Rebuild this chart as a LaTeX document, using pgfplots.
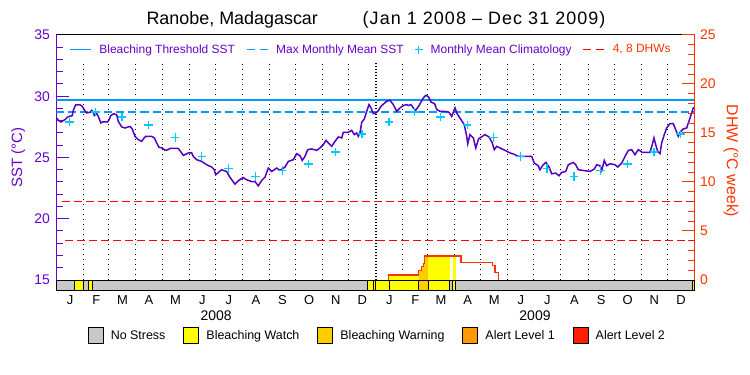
\documentclass[border=0pt]{standalone}
\usepackage{fontspec}
\setmainfont{Liberation Sans}
\usepackage{pgfplots}
\pgfplotsset{compat=1.18}
\definecolor{mypurple}{RGB}{102,0,204}
\definecolor{sstline}{RGB}{85,0,190}
\definecolor{thrblue}{RGB}{0,153,255}
\definecolor{climblue}{RGB}{0,200,255}
\definecolor{dhwred}{RGB}{255,51,0}
\definecolor{dhweight}{RGB}{255,0,0}
\definecolor{nsgrey}{RGB}{200,200,200}
\definecolor{watch}{RGB}{255,255,0}
\definecolor{warning}{RGB}{255,204,0}
\definecolor{alertone}{RGB}{255,153,0}
\definecolor{alerttwo}{RGB}{255,30,0}
\pgfplotsset{
  crosslegend/.style={legend image code/.code={\draw[##1] plot coordinates {(4bp,0bp)};}},
  linelegend/.style={legend image code/.code={\draw[##1] (0bp,0bp) -- (21bp,0bp);}},
  boxlegend/.style={legend image code/.code={\draw[##1] (0bp,-8bp) rectangle (15bp,8bp);}},
}
\begin{document}
\begin{tikzpicture}
\useasboundingbox (-56.5bp,-95bp) rectangle (693.5bp,280bp);
% ---------------- SST axis (left) ----------------
\begin{axis}[
  at={(0bp,0bp)}, anchor=south west,
  scale only axis, width=638bp, height=245bp,
  xmin=0, xmax=731, ymin=15, ymax=35,
  axis x line*=top, axis y line*=left,
  x axis line style={black, line width=1bp, -},
  y axis line style={mypurple, line width=1bp, -},
  xtick=\empty,
  ytick={15,20,25,30,35}, minor y tick num=4,
  tick align=inside,
  major tick length=13bp, minor tick length=6.5bp,
  tick style={mypurple, line width=1bp},
  yticklabel style={text=mypurple, font=\fontsize{14}{14}\selectfont, inner sep=0pt, xshift=-6.5bp},
  /pgf/number format/assume math mode=true,
  ylabel={SST (°C)},
  every axis y label/.style={at={(axis description cs:-0.060,0.5)}, rotate=90, anchor=center, font=\fontsize{15}{15}\selectfont, text=mypurple},
]
% month boundary dotted lines
\addplot[forget plot, ycomb, black, line width=1bp, dash pattern=on 1bp off 4bp] coordinates {
(31,32.84) (60,32.84) (91,32.84) (121,32.84) (152,32.84) (182,32.84) (213,32.84) (244,32.84) (274,32.84) (305,32.84) (335,32.84)
(397,32.84) (425,32.84) (456,32.84) (486,32.84) (517,32.84) (547,32.84) (578,32.84) (609,32.84) (639,32.84) (670,32.84) (700,32.84)};
\addplot[forget plot, ycomb, black, line width=1.2bp, dash pattern=on 1.5bp off 1.5bp] coordinates {(366,32.84)};
% bleaching threshold and MMM
\addplot[forget plot, thrblue, line width=1.2bp] coordinates {(0,29.7) (731,29.7)};
\addplot[forget plot, thrblue, line width=1.2bp, dash pattern=on 8bp off 4bp] coordinates {(0,28.72) (731,28.72)};
% SST
\addplot[forget plot, sstline, line width=1.5bp] table[row sep=\\] {
x y\\
0.2 28.23\\ 2.1 28.04\\ 5.2 27.90\\ 9.7 28.09\\ 12.8 28.31\\ 18.1 28.42\\ 19.2 28.85\\ 22.0 29.30\\ 26.9 29.30\\ 29.6 29.18\\
32.7 28.77\\ 34.6 28.64\\ 38.4 28.69\\ 40.3 28.85\\ 42.2 28.69\\ 43.3 28.42\\ 46.1 28.58\\ 47.9 28.36\\ 50.8 27.82\\ 52.7 27.90\\
58.5 27.90\\ 60.3 28.09\\ 62.2 28.42\\ 65.8 28.58\\ 69.0 28.48\\ 70.8 27.95\\ 74.7 27.50\\ 78.5 27.41\\ 84.2 27.54\\ 86.8 27.33\\
89.9 26.73\\ 93.7 26.46\\ 97.6 26.32\\ 99.4 26.51\\ 102.2 26.73\\ 109.1 26.73\\ 112.1 26.60\\ 114.8 26.19\\ 117.4 25.83\\ 121.2 25.78\\
124.3 25.58\\ 128.1 25.64\\ 130.0 25.74\\ 139.5 25.74\\ 143.4 25.37\\ 145.3 25.17\\ 149.2 25.31\\ 151.0 25.37\\ 154.9 25.37\\ 156.7 25.09\\
160.6 24.82\\ 166.4 24.68\\ 172.1 24.41\\ 177.8 24.22\\ 180.8 24.00\\ 182.4 23.59\\ 185.4 23.78\\ 189.2 24.00\\ 194.9 23.86\\ 198.6 23.40\\
204.4 22.83\\ 208.9 23.13\\ 213.9 23.37\\ 217.8 23.18\\ 223.5 23.04\\ 227.4 23.04\\ 231.2 22.69\\ 235.1 23.13\\ 238.9 23.40\\ 242.7 24.14\\
246.6 23.86\\ 252.3 24.14\\ 256.1 23.94\\ 261.8 24.22\\ 265.6 24.68\\ 271.3 24.82\\ 275.2 25.31\\ 279.0 25.15\\ 281.6 24.76\\ 284.7 25.09\\
287.8 25.64\\ 292.4 25.70\\ 298.1 25.58\\ 301.9 25.78\\ 305.7 26.05\\ 308.8 26.40\\ 311.4 26.19\\ 315.3 25.91\\ 319.1 26.32\\ 322.9 26.68\\
326.8 26.60\\ 328.6 27.05\\ 334.3 27.05\\ 338.2 27.22\\ 341.2 26.87\\ 343.9 27.00\\ 345.8 26.73\\ 347.7 27.00\\ 349.7 27.87\\ 352.7 28.15\\
355.4 28.77\\ 358.0 29.32\\ 360.3 29.05\\ 363.0 28.58\\ 365.5 28.62\\ 368.2 28.77\\ 371.8 29.18\\ 378.2 29.59\\ 382.1 29.67\\ 385.9 29.32\\
389.8 28.77\\ 393.6 29.05\\ 397.4 29.24\\ 401.2 29.32\\ 403.1 29.24\\ 406.2 29.32\\ 408.8 29.05\\ 411.5 28.85\\ 415.4 29.24\\ 420.3 29.87\\
423.4 30.08\\ 426.2 29.95\\ 429.3 29.51\\ 433.1 29.40\\ 435.8 28.91\\ 439.4 28.77\\ 447.1 28.75\\ 449.7 28.69\\ 452.8 28.36\\ 454.6 28.69\\
456.6 29.05\\ 458.5 28.64\\ 463.4 28.09\\ 467.2 27.68\\ 470.0 26.73\\ 471.2 26.13\\ 473.7 26.87\\ 477.6 26.60\\ 480.4 25.78\\ 483.5 26.51\\
487.0 26.68\\ 490.9 26.87\\ 495.5 26.68\\ 499.3 26.19\\ 501.6 25.64\\ 504.4 25.91\\ 508.1 25.78\\ 513.9 25.58\\ 519.6 25.37\\ 523.4 25.29\\
529.1 25.09\\ 544.5 25.09\\ 547.4 24.55\\ 552.0 24.33\\ 553.9 24.00\\ 557.7 24.41\\ 560.8 24.60\\ 564.3 24.22\\ 567.4 23.67\\ 571.9 23.73\\
575.7 23.51\\ 578.8 23.78\\ 583.4 23.86\\ 586.4 24.41\\ 592.1 24.60\\ 594.9 24.41\\ 597.9 24.00\\ 603.6 23.94\\ 611.3 23.86\\ 616.2 24.06\\
618.9 24.41\\ 622.7 24.33\\ 624.7 23.94\\ 627.6 24.76\\ 630.4 24.33\\ 634.2 24.49\\ 639.9 24.41\\ 643.0 24.22\\ 647.6 24.55\\ 651.4 25.09\\
655.2 25.58\\ 659.0 25.64\\ 662.8 25.23\\ 666.6 25.64\\ 671.2 25.42\\ 680.0 25.42\\ 682.6 26.05\\ 684.6 26.60\\ 686.5 26.05\\ 688.8 25.50\\
691.5 25.31\\ 693.4 26.19\\ 696.4 26.87\\ 699.1 27.41\\ 702.9 27.77\\ 706.7 27.77\\ 709.4 27.27\\ 712.4 26.73\\ 714.4 27.05\\ 718.1 27.33\\
722.0 27.41\\ 724.6 27.95\\ 727.8 28.64\\ 729.6 29.05\\ 731.0 29.05\\
};
% monthly mean climatology
\addplot[forget plot, only marks, mark=+, mark size=4.3bp, climblue, line width=1.2bp] coordinates {
(15,27.90) (45,28.72) (75,28.30) (105.5,27.66) (136,26.64) (166.5,25.09) (197,24.08) (228,23.45) (258.5,23.92) (289,24.47) (319.5,25.45) (350,26.92)
(381,27.90) (410.5,28.72) (440,28.30) (470.5,27.66) (501,26.64) (531.5,25.09) (562,24.08) (593,23.45) (623.5,23.92) (654,24.47) (684.5,25.45) (715,26.92)};
\end{axis}
% ---------------- DHW axis (right) ----------------
\begin{axis}[
  at={(0bp,0bp)}, anchor=south west,
  scale only axis, width=638bp, height=245bp,
  xmin=0, xmax=731, ymin=0, ymax=25,
  axis x line=none, axis y line*=right,
  y axis line style={dhwred, line width=1bp, -},
  ytick={0,5,10,15,20,25}, minor y tick num=4,
  tick align=inside,
  major tick length=13bp, minor tick length=6.5bp,
  tick style={dhwred, line width=1bp},
  yticklabel style={text=dhwred, font=\fontsize{14}{14}\selectfont, inner sep=0pt, xshift=5.5bp},
  /pgf/number format/assume math mode=true,
  ylabel={DHW (°C week)},
  every axis y label/.style={at={(axis description cs:1.0572,0.4857)}, rotate=-90, anchor=center, font=\fontsize{16}{16}\selectfont, text=dhwred},
  legend columns=4,
  legend cell align=left,
  linelegend,
  legend style={at={(0.0196,0.9408)}, anchor=west, draw=none, fill=none, inner sep=0pt, text=mypurple,
    font=\fontsize{12}{14}\selectfont, nodes={inner sep=0pt},
    /tikz/every odd column/.append style={column sep=8bp},
    /tikz/every even column/.append style={column sep=11bp}},
]
% alert-coloured area under the DHW curve
\addplot[forget plot, fill=watch, draw=none] coordinates {(380.5,0) (380.5,0.5) (414.5,0.5) (414.5,0)} --cycle;
\addplot[forget plot, fill=warning, draw=none] coordinates {(414.5,0) (414.5,0.95) (418.4,0.95) (418.4,1.36) (420.3,1.36) (420.3,1.7) (421.4,1.7) (421.4,2.45) (426.2,2.45) (426.2,0)} --cycle;
\addplot[forget plot, fill=watch, draw=none] coordinates {(426.2,0) (426.2,2.45) (450.3,2.45) (450.3,0)} --cycle;
\addplot[forget plot, fill=watch, draw=none] coordinates {(453.9,0) (453.9,2.45) (457.4,2.45) (457.4,0)} --cycle;
% DHW
\addplot[forget plot, const plot, dhwred, line width=1.2bp] coordinates {(380.5,0) (380.5,0.5) (414.5,0.95) (418.4,1.36) (420.3,1.7) (421.4,2.45) (463.5,1.8) (499.3,1.46) (502.4,0.75) (506.2,0)};
% 4 and 8 DHW lines
\addplot[forget plot, dhweight, line width=1bp, dash pattern=on 8bp off 4bp] coordinates {(10,4) (731,4)};
\addplot[forget plot, dhweight, line width=1bp, dash pattern=on 8bp off 4bp] coordinates {(6,8) (731,8)};
% legend
\addlegendimage{thrblue, line width=1.2bp}
\addlegendentry{Bleaching Threshold SST}
\addlegendimage{thrblue, line width=1.2bp, dash pattern=on 8bp off 5bp}
\addlegendentry{Max Monthly Mean SST}
\addlegendimage{only marks, mark=+, mark size=4bp, climblue, line width=1.2bp, crosslegend}
\addlegendentry{Monthly Mean Climatology}
\addlegendimage{dhweight, line width=1.2bp, dash pattern=on 8bp off 5bp}
\addlegendentry{\textcolor{dhwred}{4, 8 DHWs}}
\end{axis}
% ---------------- stress bar ----------------
\begin{axis}[
  at={(0bp,0bp)}, anchor=north west,
  scale only axis, width=638bp, height=10bp,
  xmin=0, xmax=731, ymin=0, ymax=1,
  axis line style={black, line width=1bp},
  ytick=\empty,
  xtick={15.5,45.5,75.5,106,136.5,167,197.5,228.5,259,289.5,320,350.5,381.5,411,440.5,471,501.5,532,562.5,593.5,624,654.5,685,715.5},
  xticklabels={J,F,M,A,M,J,J,A,S,O,N,D,J,F,M,A,M,J,J,A,S,O,N,D},
  major tick length=0pt,
  xticklabel style={font=\fontsize{13}{13}\selectfont, anchor=base, yshift=-14bp, inner sep=0pt},
  clip=false,
  legend columns=5,
  legend cell align=left,
  boxlegend,
  legend style={at={(0.0487,-4.6)}, anchor=west, draw=none, fill=none, inner sep=0pt,
    font=\fontsize{12.5}{14}\selectfont, nodes={inner sep=0pt},
    /tikz/every odd column/.append style={column sep=7bp},
    /tikz/every even column/.append style={column sep=18bp}},
]
\addplot[forget plot, fill=nsgrey, draw=black, line width=1bp] coordinates {(0,0) (20.3,0) (20.3,1) (0,1)} --cycle;
\addplot[forget plot, fill=watch, draw=black, line width=1bp] coordinates {(20.3,0) (31.2,0) (31.2,1) (20.3,1)} --cycle;
\addplot[forget plot, fill=nsgrey, draw=black, line width=1bp] coordinates {(31.2,0) (37.0,0) (37.0,1) (31.2,1)} --cycle;
\addplot[forget plot, fill=watch, draw=black, line width=1bp] coordinates {(37.0,0) (41.0,0) (41.0,1) (37.0,1)} --cycle;
\addplot[forget plot, fill=nsgrey, draw=black, line width=1bp] coordinates {(41.0,0) (356.2,0) (356.2,1) (41.0,1)} --cycle;
\addplot[forget plot, fill=watch, draw=black, line width=1bp] coordinates {(356.2,0) (363.1,0) (363.1,1) (356.2,1)} --cycle;
\addplot[forget plot, fill=watch, draw=black, line width=1bp] coordinates {(363.1,0) (365.7,0) (365.7,1) (363.1,1)} --cycle;
\addplot[forget plot, fill=watch, draw=black, line width=1bp] coordinates {(365.7,0) (381.0,0) (381.0,1) (365.7,1)} --cycle;
\addplot[forget plot, fill=watch, draw=black, line width=1bp] coordinates {(381.0,0) (414.5,0) (414.5,1) (381.0,1)} --cycle;
\addplot[forget plot, fill=warning, draw=black, line width=1bp] coordinates {(414.5,0) (426.2,0) (426.2,1) (414.5,1)} --cycle;
\addplot[forget plot, fill=watch, draw=black, line width=1bp] coordinates {(426.2,0) (450.3,0) (450.3,1) (426.2,1)} --cycle;
\addplot[forget plot, fill=nsgrey, draw=black, line width=1bp] coordinates {(450.3,0) (453.9,0) (453.9,1) (450.3,1)} --cycle;
\addplot[forget plot, fill=watch, draw=black, line width=1bp] coordinates {(453.9,0) (457.4,0) (457.4,1) (453.9,1)} --cycle;
\addplot[forget plot, fill=nsgrey, draw=black, line width=1bp] coordinates {(457.4,0) (728.5,0) (728.5,1) (457.4,1)} --cycle;
\addplot[forget plot, fill=watch, draw=black, line width=1bp] coordinates {(728.5,0) (731,0) (731,1) (728.5,1)} --cycle;
\addlegendimage{fill=nsgrey, draw=black, line width=1bp}
\addlegendentry{No Stress}
\addlegendimage{fill=watch, draw=black, line width=1bp}
\addlegendentry{Bleaching Watch}
\addlegendimage{fill=warning, draw=black, line width=1bp}
\addlegendentry{Bleaching Warning}
\addlegendimage{fill=alertone, draw=black, line width=1bp}
\addlegendentry{Alert Level 1}
\addlegendimage{fill=alerttwo, draw=black, line width=1bp}
\addlegendentry{Alert Level 2}
\end{axis}
% titles and year labels
\node[anchor=base west, font=\fontsize{18}{18}\selectfont] at (86.5bp,255.5bp) {Ranobe, Madagascar};
\node[anchor=base east, font=\fontsize{18}{18}\selectfont\addfontfeature{LetterSpace=6}] at (552.5bp,255.5bp) {(Jan 1 2008 -- Dec 31 2009)};
\node[anchor=base, font=\fontsize{14}{14}\selectfont] at (159.7bp,-40bp) {2008};
\node[anchor=base, font=\fontsize{14}{14}\selectfont] at (478.5bp,-40bp) {2009};
\end{tikzpicture}
\end{document}
